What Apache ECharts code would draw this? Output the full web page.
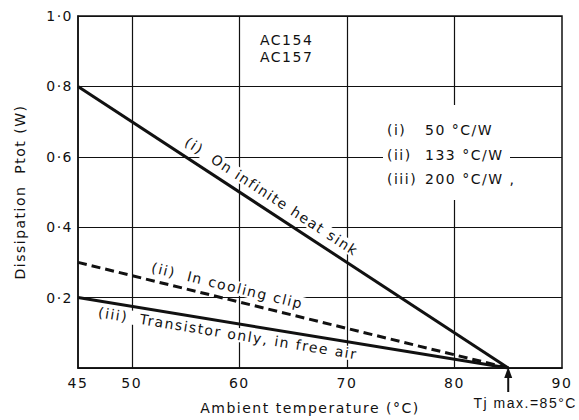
<!DOCTYPE html>
<html>
<head>
<meta charset="utf-8">
<script src="https://cdn.jsdelivr.net/npm/echarts@6/dist/echarts.min.js"></script>
<style>
html,body{margin:0;padding:0;background:#fff;}
#chart{width:579px;height:420px;}
#chart text{letter-spacing:1.5px;}
</style>
</head>
<body>
<div id="chart"></div>
<script>
// ---- data ----
const xEnds = [45, 85];
const seriesI = [0.8, 0];     // (i) On infinite heat sink
const seriesII = [0.3, 0];    // (ii) In cooling clip
const seriesIII = [0.2, 0];   // (iii) Transistor only, in free air
const xTickLabels = [45, 50, 60, 70, 80, 90];
const xGridValues = [50, 60, 70, 80];
const yTickLabels = ['0·2', '0·4', '0·6', '0·8', '1·0'];
const lineLabels = ['(i)  On infinite heat sink', '(ii)  In cooling clip', '(iii)  Transistor only, in free air'];
const legendRows = [['(i)', '50 °C/W'], ['(ii)', '133 °C/W'], ['(iii)', '200 °C/W ,']];
const deviceNames = ['AC154', 'AC157'];
const tjMax = 85;

const FONT = 'DejaVu Sans';
const INK = '#111';

const chart = echarts.init(document.getElementById('chart'), null, {renderer: 'svg'});

function pts(ys) { return xEnds.map((x, i) => [x, ys[i]]); }

const option = {
  animation: false,
  backgroundColor: '#fff',
  grid: {left: 78, right: 17, top: 16, bottom: 48, show: true, borderColor: INK, borderWidth: 1.5},
  xAxis: {
    type: 'value', min: 45, max: 90, interval: 5,
    name: 'Ambient temperature (°C)', nameLocation: 'middle', nameGap: 33,
    nameTextStyle: {fontFamily: FONT, fontSize: 14, color: INK, padding: [0, 20, 0, 0]},
    axisLine: {show: true, lineStyle: {color: INK, width: 1.5}},
    axisTick: {show: false},
    splitLine: {show: false},
    axisLabel: {
      fontFamily: FONT, fontSize: 14, color: INK, margin: 8,
      formatter: v => xTickLabels.includes(v) ? String(v) : ''
    }
  },
  yAxis: {
    type: 'value', min: 0, max: 1, interval: 0.2,
    name: 'Dissipation  Ptot (W)', nameLocation: 'middle', nameGap: 51,
    nameTextStyle: {fontFamily: FONT, fontSize: 14, color: INK},
    axisLine: {show: true, lineStyle: {color: INK, width: 1.5}},
    axisTick: {show: false},
    splitLine: {show: true, lineStyle: {color: INK, width: 1.2}},
    axisLabel: {
      fontFamily: FONT, fontSize: 14, color: INK, margin: 5,
      formatter: v => { const i = Math.round(v / 0.2) - 1; return i >= 0 ? yTickLabels[i] : ''; }
    }
  },
  series: [
    {
      type: 'line', data: pts(seriesI), symbol: 'none',
      lineStyle: {color: INK, width: 3}, z: 5,
      markLine: {
        silent: true, symbol: 'none', label: {show: false},
        lineStyle: {color: INK, width: 1.2, type: 'solid'},
        data: xGridValues.map(v => ({xAxis: v})), z: 1
      }
    },
    {type: 'line', data: pts(seriesII), symbol: 'none', lineStyle: {color: INK, width: 3, type: [9, 5]}, z: 5},
    {type: 'line', data: pts(seriesIII), symbol: 'none', lineStyle: {color: INK, width: 3}, z: 5}
  ]
};
chart.setOption(option);

// ---- annotations placed via the chart's own coordinate conversion ----
const lines = [seriesI, seriesII, seriesIII];
const labelPlace = [{x: 62.3, d: 14}, {x: 58.6, d: 13}, {x: 59.1, d: -11}];
const graphics = [];
lines.forEach((ys, k) => {
  const a = chart.convertToPixel({gridIndex: 0}, [xEnds[0], ys[0]]);
  const b = chart.convertToPixel({gridIndex: 0}, [xEnds[1], ys[1]]);
  const dx = b[0] - a[0], dy = b[1] - a[1], len = Math.hypot(dx, dy);
  const ux = dx / len, uy = dy / len;
  const xv = labelPlace[k].x;
  const yv = ys[0] + (ys[1] - ys[0]) * (xv - xEnds[0]) / (xEnds[1] - xEnds[0]);
  const p = chart.convertToPixel({gridIndex: 0}, [xv, yv]);
  const d = labelPlace[k].d;
  graphics.push({
    type: 'text', x: p[0] + d * uy, y: p[1] - d * ux,
    rotation: -Math.atan2(dy, dx), z: 50,
    style: {text: lineLabels[k], fontFamily: FONT, fontSize: 14, fill: INK,
      align: 'center', verticalAlign: 'middle', backgroundColor: '#fff', padding: [0, 20]}
  });
});
// legend box
graphics.push({type: 'rect', shape: {x: 383, y: 105, width: 127, height: 95}, style: {fill: '#fff'}, z: 40});
legendRows.forEach((r, i) => {
  graphics.push({type: 'text', x: 387, y: 130 + i * 24.5, z: 50,
    style: {text: r[0], fontFamily: FONT, fontSize: 14, fill: INK, verticalAlign: 'middle'}});
  graphics.push({type: 'text', x: 425, y: 130 + i * 24.5, z: 50,
    style: {text: r[1], fontFamily: FONT, fontSize: 14, fill: INK, verticalAlign: 'middle'}});
});
deviceNames.forEach((t, i) => {
  graphics.push({type: 'text', x: 260, y: 40 + i * 17, z: 50,
    style: {text: t, fontFamily: FONT, fontSize: 14, fill: INK, verticalAlign: 'middle'}});
});
// Tj max arrow
const tp = chart.convertToPixel({gridIndex: 0}, [tjMax, 0]);
graphics.push({type: 'line', shape: {x1: tp[0], y1: tp[1] + 24, x2: tp[0], y2: tp[1] + 6}, style: {stroke: INK, lineWidth: 2}, z: 50});
graphics.push({type: 'polygon', shape: {points: [[tp[0], tp[1] - 1], [tp[0] - 4, tp[1] + 10], [tp[0] + 4, tp[1] + 10]]}, style: {fill: INK}, z: 50});
graphics.push({type: 'text', x: tp[0] + 17, y: tp[1] + 35, z: 50,
  style: {text: 'Tj max.=85°C', fontFamily: 'Liberation Sans', fontSize: 14, fill: INK, align: 'center', verticalAlign: 'middle'}});

chart.setOption({graphic: {elements: graphics}});
</script>
</body>
</html>
